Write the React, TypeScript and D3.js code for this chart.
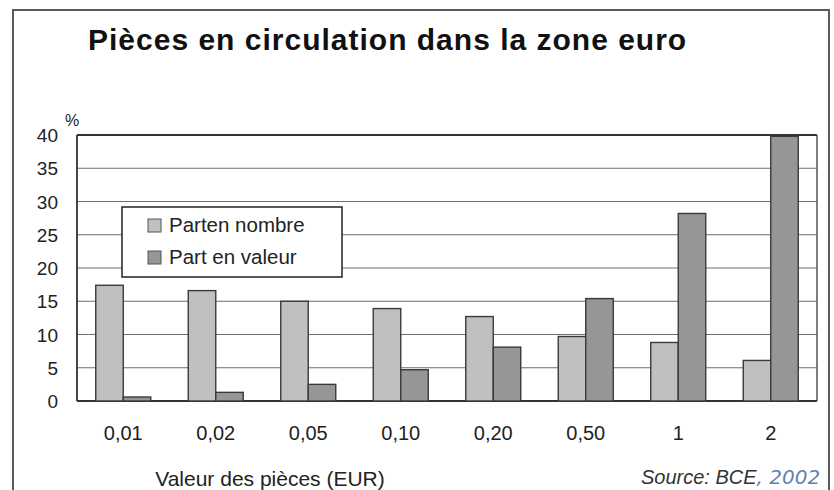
import React from "react";
import * as d3 from "d3";

const categories = ["0,01", "0,02", "0,05", "0,10", "0,20", "0,50", "1", "2"];
const partNombre = [17.4, 16.6, 15.0, 13.9, 12.7, 9.7, 8.8, 6.1];
const partValeur = [0.6, 1.3, 2.5, 4.7, 8.1, 15.4, 28.2, 39.8];
const yTicks = [0, 5, 10, 15, 20, 25, 30, 35, 40];
const seriesNames = ["Parten nombre", "Part en valeur"];
const seriesColors = ["#c0c0c0", "#969696"];

const W = 834;
const H = 490;
const plot = { left: 77, right: 817, top: 135, bottom: 401 };
const FONT = "'Liberation Sans', Arial, Helvetica, sans-serif";

export default function App() {
  const x = d3
    .scaleBand<string>()
    .domain(categories)
    .range([plot.left, plot.right])
    .paddingInner(0)
    .paddingOuter(0);
  const y = d3.scaleLinear().domain([0, 40]).range([plot.bottom, plot.top]);
  const barW = 27.5;

  return (
    <svg
      width={W}
      height={H}
      style={{ position: "absolute", left: 0, top: 0, background: "#fff" }}
      fontFamily={FONT}
    >
      <rect x={0} y={0} width={W} height={H} fill="#fff" />
      {/* outer frame */}
      <path d={`M13,${H + 5} L13,10 L829,10 L829,${H + 5}`} fill="none" stroke="#5a5a5a" strokeWidth={2} />
      <text x={88} y={50} fontSize={30} fontWeight="bold" letterSpacing={1} fill="#111">
        Pièces en circulation dans la zone euro
      </text>

      {/* gridlines */}
      {yTicks.map((t) => (
        <line
          key={"g" + t}
          x1={plot.left}
          x2={plot.right}
          y1={y(t)}
          y2={y(t)}
          stroke={t === 0 || t === 40 ? "#333" : "#6e6e6e"}
          strokeWidth={t === 0 || t === 40 ? 1.8 : 1.1}
        />
      ))}
      <line x1={plot.left} x2={plot.left} y1={plot.top} y2={plot.bottom} stroke="#333" strokeWidth={1.8} />
      <line x1={plot.right} x2={plot.right} y1={plot.top} y2={plot.bottom} stroke="#555" strokeWidth={1.5} />

      {/* y tick labels */}
      {yTicks.map((t) => (
        <text key={"t" + t} x={58} y={y(t) + 7} fontSize={19} textAnchor="end" fill="#222">
          {t}
        </text>
      ))}
      <text x={65} y={126} fontSize={16} fill="#222">%</text>

      {/* bars */}
      {categories.map((c, i) => {
        const cx = (x(c) as number) + x.bandwidth() / 2;
        return (
          <g key={c}>
            <rect
              x={cx - barW}
              y={y(partNombre[i])}
              width={barW}
              height={y(0) - y(partNombre[i])}
              fill={seriesColors[0]}
              stroke="#3a3a3a"
              strokeWidth={1.4}
            />
            <rect
              x={cx}
              y={y(partValeur[i])}
              width={barW}
              height={y(0) - y(partValeur[i])}
              fill={seriesColors[1]}
              stroke="#3a3a3a"
              strokeWidth={1.4}
            />
            <text x={cx} y={440} fontSize={20} textAnchor="middle" fill="#222">
              {c}
            </text>
          </g>
        );
      })}

      {/* legend */}
      <rect x={122} y={207} width={220} height={70} fill="#fff" stroke="#222" strokeWidth={1.5} />
      {seriesNames.map((n, i) => (
        <g key={n}>
          <rect
            x={148}
            y={219 + i * 32}
            width={13}
            height={13}
            fill={seriesColors[i]}
            stroke="#555"
            strokeWidth={1}
          />
          <text x={169} y={232 + i * 32} fontSize={20.5} fill="#222">
            {n}
          </text>
        </g>
      ))}

      <text x={270} y={486} fontSize={21} textAnchor="middle" fill="#222">
        Valeur des pièces (EUR)
      </text>
      <text x={641} y={484} fontSize={20} fontStyle="italic" fill="#333">
        Source: BCE
        <tspan fill="#5f82ad" fontFamily="'DejaVu Sans', sans-serif" fontSize={20}>
          , 2002
        </tspan>
      </text>
    </svg>
  );
}
